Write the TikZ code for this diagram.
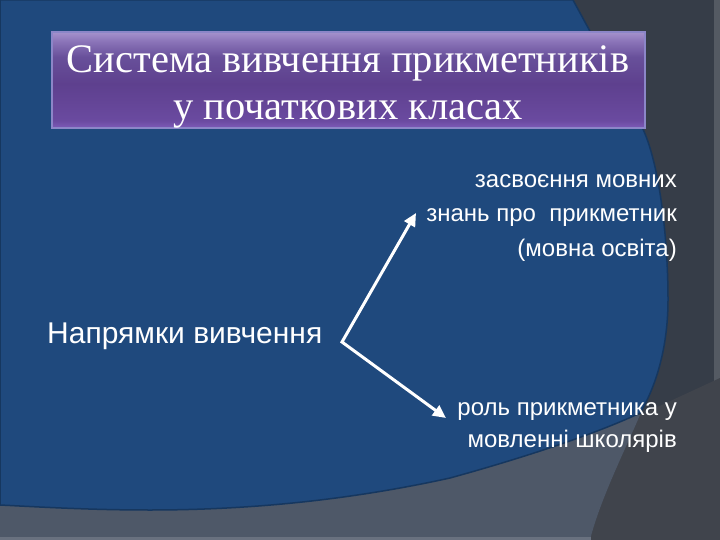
\documentclass[tikz,border=0pt]{standalone}
\usepackage{fontspec}
\setmainfont{Liberation Serif}
\setsansfont{Liberation Sans}
\usetikzlibrary{arrows.meta}

\definecolor{slideblue}{HTML}{1F497D}
\definecolor{edgeblue}{HTML}{16375F}
\definecolor{darkslate}{HTML}{363D48}
\definecolor{midslate}{HTML}{4E5868}
\definecolor{lowslate}{HTML}{40444C}
\definecolor{boxline}{HTML}{8C86C8}
\definecolor{violetlow}{HTML}{7D5AB8}
\definecolor{violetdeep}{HTML}{6A4AA0}
\definecolor{violetmid}{HTML}{5E408E}
\definecolor{violetup}{HTML}{68509A}
\definecolor{violetlight}{HTML}{8A73B8}
\definecolor{violettop}{HTML}{A592CC}

\pgfdeclareverticalshading{titleshade}{100bp}{%
  color(0bp)=(violetlow); color(25bp)=(violetlow); color(29bp)=(violetdeep);
  color(48bp)=(violetmid); color(62bp)=(violetup); color(70bp)=(violetlight);
  color(75bp)=(violettop); color(100bp)=(violettop)}

\tikzset{
  titlebox/.style={draw=boxline, line width=1.2pt, shading=titleshade,
    minimum width=593pt, minimum height=96pt, inner sep=0pt},
  titletext/.style={text=white, align=center, inner sep=0pt,
    font=\fontsize{40.5}{47}\selectfont},
  sidetext/.style={text=white, align=right, inner sep=0pt,
    font=\sffamily\fontsize{24}{34.5}\selectfont},
  labeltext/.style={text=white, inner sep=0pt,
    font=\sffamily\fontsize{30}{34}\selectfont},
  dirarrow/.style={draw=white, line width=3pt,
    {Triangle[length=13pt,width=12pt]}-{Triangle[length=13pt,width=12pt]}}
}

\begin{document}
\begin{tikzpicture}[x=1pt, y=-1pt]
\useasboundingbox (0,0) rectangle (720,540);

% tlo slajdu
\fill[darkslate] (0,0) rectangle (720,540);
\fill[color=darkslate!85!white] (714,0) rectangle (720,540);
\fill[lowslate] (640,415) -- (720,378) -- (720,540) -- (590,540)
  .. controls (600,500) and (625,450) .. (640,415);
\fill[midslate] (0,470) -- (640,415) .. controls (625,450) and (600,500) .. (590,540)
  -- (0,540) -- cycle;
\fill[midslate!85!white] (0,537) rectangle (591,540);
\filldraw[fill=slideblue, draw=edgeblue, line width=1.5pt]
  (0,0) -- (573,0) -- (642,127)
  .. controls (659,162) and (668,235) .. (668,300)
  .. controls (668,345) and (657,385) .. (640,413)
  .. controls (600,432) and (530,456) .. (450,478)
  .. controls (350,500) and (250,510) .. (150,510)
  .. controls (90,510) and (40,507) .. (0,505) -- cycle;

% titul
\node[titlebox] (titlebg) at (348.5,80) {};
\node[titletext, anchor=base] (title) at (348,120)
  {Система вивчення прикметників\\у початкових класах};

% napryamky
\node[labeltext, anchor=base west] (kind) at (47,343) {Напрямки вивчення};
\node[sidetext, anchor=base east] (know) at (677,256)
  {засвоєння мовних\\знань про\ \ прикметник\\(мовна освіта)};
\node[sidetext, anchor=base east, font=\sffamily\fontsize{24}{32}\selectfont]
  (speech) at (677,447) {роль прикметника у\\мовленні школярів};

\coordinate (fork) at (342,342);
\coordinate (knowtip) at (416,213);
\coordinate (speechtip) at (446,418);
\draw[dirarrow] (knowtip) -- (fork) -- (speechtip);
\end{tikzpicture}
\end{document}
